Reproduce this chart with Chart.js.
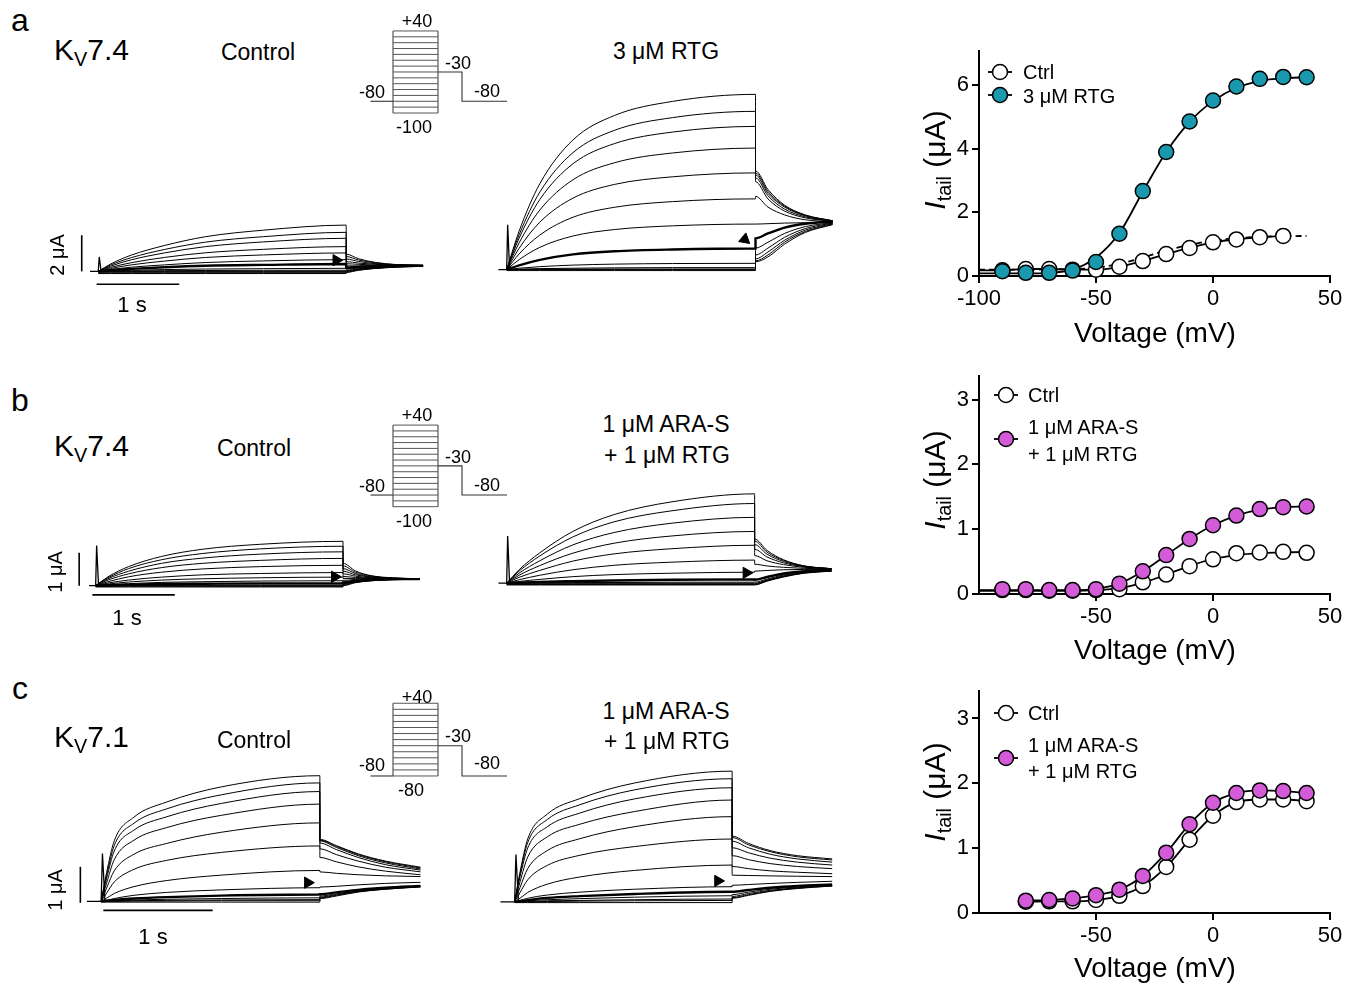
<!DOCTYPE html>
<html>
<head>
<meta charset="utf-8">
<title>Kv7 tail currents</title>
<script src="https://cdn.jsdelivr.net/npm/chart.js@4.4.1/dist/chart.umd.min.js"></script>
<style>
  html, body { margin: 0; padding: 0; background: #fff; }
  body { position: relative; width: 1358px; height: 985px; overflow: hidden;
         font-family: Arial, "Liberation Sans", Helvetica, sans-serif; color: #000; }
  canvas { position: absolute; }
  .lbl { position: absolute; white-space: nowrap; line-height: 1; transform: translate(-50%, -50%); }
  .lbl.left { transform: translate(0, -50%); }
  .lbl.rot { transform: translate(-50%, -50%) rotate(-90deg); }
  .lbl sub { font-size: 0.66em; vertical-align: -0.32em; line-height: 0; }
</style>
</head>
<body>
<script>
/* ── Time bases of the current traces (s) ─────────────────── */
const tStep74 = [0, 0.15, 0.4, 0.8, 1.3, 2, 3];
const tTail74 = [3, 3.15, 3.35, 3.6, 3.93];
const tStep71 = [0, 0.05, 0.12, 0.3, 0.6, 1.1, 2];
const tTail71 = [2, 2.15, 2.35, 2.6, 2.92];

/* ── a: Kv7.4 control / 3 uM RTG traces (uA) ──────────────── */
const aCtrlStep = [
  [0, 0.41, 0.90, 1.43, 1.92, 2.28, 2.56],
  [0, 0.35, 0.76, 1.21, 1.62, 1.92, 2.16],
  [0, 0.29, 0.64, 1.02, 1.37, 1.63, 1.83],
  [0, 0.22, 0.48, 0.77, 1.03, 1.22, 1.37],
  [0, 0.16, 0.36, 0.57, 0.77, 0.91, 1.02],
  [0, 0.10, 0.23, 0.36, 0.49, 0.58, 0.65],
  [0, 0.07, 0.14, 0.23, 0.31, 0.36, 0.41],
  [0, 0.03, 0.06, 0.10, 0.13, 0.15, 0.17],
  [0, 0.01, 0.02, 0.04, 0.05, 0.06, 0.06],
  [0, 0, 0, 0, 0, 0, 0],
  [-0.04, -0.04, -0.04, -0.04, -0.04, -0.04, -0.04],
  [-0.08, -0.08, -0.08, -0.08, -0.08, -0.08, -0.08],
  [-0.12, -0.12, -0.12, -0.12, -0.12, -0.12, -0.12]
];
const aCtrlTail = [
  [0.95, 0.70, 0.50, 0.38, 0.33],
  [0.82, 0.63, 0.47, 0.37, 0.33],
  [0.68, 0.55, 0.43, 0.36, 0.33],
  [0.54, 0.46, 0.39, 0.35, 0.33],
  [0.42, 0.39, 0.35, 0.33, 0.32],
  [0.30, 0.31, 0.32, 0.32, 0.32],
  [0.20, 0.25, 0.29, 0.31, 0.31],
  [0.12, 0.19, 0.25, 0.29, 0.31],
  [0.06, 0.15, 0.22, 0.27, 0.30],
  [0.03, 0.12, 0.20, 0.26, 0.29],
  [0.00, 0.10, 0.18, 0.25, 0.29],
  [-0.03, 0.08, 0.17, 0.24, 0.28],
  [-0.06, 0.06, 0.16, 0.23, 0.28]
];
const aRtgStep = [
  [0, 1.97, 4.40, 6.64, 7.89, 8.61, 8.97],
  [0, 1.78, 3.97, 5.99, 7.13, 7.78, 8.10],
  [0, 1.61, 3.59, 5.42, 6.45, 7.04, 7.33],
  [0, 1.37, 3.05, 4.60, 5.47, 5.97, 6.22],
  [0, 1.09, 2.43, 3.66, 4.36, 4.75, 4.95],
  [0, 0.80, 1.77, 2.68, 3.19, 3.48, 3.62],
  [0, 0.51, 1.14, 1.72, 2.05, 2.24, 2.33],
  [0, 0.22, 0.50, 0.78, 0.94, 1.03, 1.08],
  [0, 0.07, 0.15, 0.23, 0.28, 0.31, 0.32],
  [0, 0.02, 0.05, 0.07, 0.09, 0.10, 0.10],
  [0, 0.01, 0.02, 0.02, 0.03, 0.03, 0.03],
  [0, 0, 0, 0, 0, 0, 0],
  [-0.05, -0.05, -0.05, -0.05, -0.05, -0.05, -0.05]
];
const aRtgTail = [
  [5.05, 4.10, 3.30, 2.80, 2.50],
  [4.95, 4.00, 3.25, 2.78, 2.50],
  [4.85, 3.90, 3.20, 2.75, 2.49],
  [4.70, 3.78, 3.10, 2.70, 2.48],
  [4.50, 3.62, 3.00, 2.65, 2.47],
  [3.75, 3.20, 2.80, 2.55, 2.45],
  [2.33, 2.35, 2.38, 2.40, 2.42],
  [1.60, 1.85, 2.15, 2.35, 2.45],
  [1.10, 1.40, 1.85, 2.20, 2.40],
  [0.75, 1.10, 1.65, 2.10, 2.38],
  [0.55, 0.90, 1.50, 2.02, 2.35],
  [0.45, 0.75, 1.40, 1.95, 2.33],
  [0.40, 0.65, 1.30, 1.90, 2.30]
];

/* ── b: Kv7.4 control / ARA-S + RTG traces (uA) ───────────── */
const bCtrlStep = [
  [0, 0.27, 0.58, 0.89, 1.11, 1.26, 1.35],
  [0, 0.24, 0.52, 0.79, 0.98, 1.12, 1.20],
  [0, 0.21, 0.44, 0.68, 0.84, 0.96, 1.03],
  [0, 0.17, 0.36, 0.55, 0.68, 0.77, 0.83],
  [0, 0.12, 0.27, 0.41, 0.51, 0.58, 0.62],
  [0, 0.08, 0.17, 0.26, 0.33, 0.37, 0.40],
  [0, 0.05, 0.11, 0.17, 0.21, 0.24, 0.26],
  [0, 0.03, 0.06, 0.10, 0.12, 0.14, 0.15],
  [0, 0.01, 0.03, 0.05, 0.06, 0.07, 0.07],
  [0, 0, 0.01, 0.01, 0.02, 0.02, 0.02],
  [0, 0, 0, 0, 0, 0, 0],
  [-0.02, -0.02, -0.02, -0.02, -0.02, -0.02, -0.02],
  [-0.04, -0.04, -0.04, -0.04, -0.04, -0.04, -0.04]
];
const bCtrlTail = [
  [0.68, 0.45, 0.30, 0.24, 0.21],
  [0.60, 0.41, 0.29, 0.23, 0.21],
  [0.52, 0.37, 0.27, 0.23, 0.21],
  [0.44, 0.33, 0.26, 0.22, 0.21],
  [0.36, 0.29, 0.24, 0.22, 0.21],
  [0.28, 0.25, 0.23, 0.22, 0.21],
  [0.22, 0.22, 0.22, 0.21, 0.21],
  [0.16, 0.19, 0.20, 0.21, 0.21],
  [0.10, 0.15, 0.18, 0.20, 0.20],
  [0.06, 0.12, 0.17, 0.19, 0.20],
  [0.04, 0.11, 0.16, 0.19, 0.20],
  [0.02, 0.10, 0.15, 0.18, 0.20],
  [0.00, 0.09, 0.15, 0.18, 0.20]
];
const bAraStep = [
  [0, 0.39, 0.88, 1.50, 1.99, 2.36, 2.59],
  [0, 0.35, 0.79, 1.34, 1.78, 2.10, 2.31],
  [0, 0.29, 0.65, 1.11, 1.47, 1.74, 1.91],
  [0, 0.23, 0.51, 0.87, 1.16, 1.37, 1.50],
  [0, 0.17, 0.37, 0.64, 0.85, 1.00, 1.10],
  [0, 0.10, 0.23, 0.39, 0.52, 0.61, 0.67],
  [0, 0.05, 0.11, 0.19, 0.25, 0.29, 0.32],
  [0, 0.02, 0.04, 0.06, 0.08, 0.10, 0.11],
  [0, 0, 0.01, 0.02, 0.02, 0.03, 0.03],
  [0, 0, 0, 0, 0, 0, 0],
  [-0.02, -0.02, -0.02, -0.02, -0.02, -0.02, -0.02],
  [-0.04, -0.04, -0.04, -0.04, -0.04, -0.04, -0.04],
  [-0.05, -0.05, -0.05, -0.05, -0.05, -0.05, -0.05]
];
const bAraTail = [
  [1.28, 0.95, 0.68, 0.50, 0.42],
  [1.22, 0.90, 0.66, 0.50, 0.42],
  [1.12, 0.84, 0.63, 0.49, 0.42],
  [0.98, 0.76, 0.59, 0.48, 0.42],
  [0.80, 0.65, 0.54, 0.46, 0.41],
  [0.55, 0.50, 0.46, 0.43, 0.41],
  [0.35, 0.37, 0.39, 0.40, 0.40],
  [0.10, 0.18, 0.28, 0.35, 0.38],
  [0.03, 0.12, 0.24, 0.32, 0.37],
  [0.00, 0.09, 0.22, 0.31, 0.36],
  [-0.02, 0.08, 0.20, 0.30, 0.36],
  [-0.04, 0.07, 0.19, 0.30, 0.35],
  [-0.05, 0.06, 0.18, 0.29, 0.35]
];

/* ── c: Kv7.1 control / ARA-S + RTG traces (uA) ───────────── */
const cCtrlStep = [
  [0, 0.80, 1.68, 2.34, 2.76, 3.18, 3.49],
  [0, 0.72, 1.55, 2.17, 2.57, 2.96, 3.29],
  [0, 0.64, 1.40, 1.98, 2.35, 2.72, 3.05],
  [0, 0.51, 1.16, 1.70, 2.05, 2.39, 2.70],
  [0, 0.37, 0.85, 1.31, 1.61, 1.92, 2.18],
  [0, 0.23, 0.54, 0.89, 1.14, 1.36, 1.54],
  [0, 0.09, 0.22, 0.41, 0.58, 0.73, 0.86],
  [0, 0.03, 0.08, 0.17, 0.25, 0.32, 0.38],
  [0, 0.02, 0.04, 0.08, 0.12, 0.16, 0.19],
  [0, 0.01, 0.02, 0.04, 0.06, 0.08, 0.10],
  [0, 0, 0.01, 0.02, 0.03, 0.04, 0.05],
  [0, 0, 0, 0.01, 0.01, 0.02, 0.02],
  [-0.02, -0.02, -0.02, -0.02, -0.02, -0.02, -0.02]
];
const cCtrlTail = [
  [1.72, 1.55, 1.32, 1.12, 0.95],
  [1.70, 1.53, 1.30, 1.10, 0.93],
  [1.68, 1.50, 1.27, 1.07, 0.90],
  [1.62, 1.44, 1.22, 1.02, 0.87],
  [1.46, 1.30, 1.12, 0.95, 0.82],
  [1.22, 1.10, 0.96, 0.84, 0.74],
  [0.82, 0.78, 0.74, 0.71, 0.69],
  [0.40, 0.42, 0.46, 0.50, 0.53],
  [0.20, 0.25, 0.32, 0.38, 0.43],
  [0.15, 0.21, 0.29, 0.36, 0.42],
  [0.12, 0.19, 0.28, 0.35, 0.41],
  [0.10, 0.17, 0.27, 0.34, 0.41],
  [0.08, 0.15, 0.26, 0.34, 0.40]
];
const cAraStep = [
  [0, 0.83, 1.74, 2.43, 2.86, 3.29, 3.62],
  [0, 0.78, 1.64, 2.28, 2.69, 3.10, 3.41],
  [0, 0.70, 1.49, 2.08, 2.46, 2.85, 3.16],
  [0, 0.56, 1.24, 1.80, 2.15, 2.50, 2.82],
  [0, 0.40, 0.92, 1.42, 1.75, 2.08, 2.36],
  [0, 0.26, 0.61, 1.01, 1.29, 1.53, 1.74],
  [0, 0.10, 0.26, 0.49, 0.69, 0.87, 1.02],
  [0, 0.04, 0.10, 0.19, 0.27, 0.35, 0.42],
  [0, 0.02, 0.05, 0.11, 0.16, 0.22, 0.28],
  [0, 0.01, 0.03, 0.06, 0.09, 0.13, 0.17],
  [0, 0, 0.01, 0.03, 0.04, 0.06, 0.08],
  [0, 0, 0, 0.01, 0.02, 0.03, 0.04],
  [-0.02, -0.02, -0.02, -0.02, -0.02, -0.02, -0.02]
];
const cAraTail = [
  [1.82, 1.62, 1.42, 1.28, 1.19],
  [1.78, 1.58, 1.39, 1.25, 1.16],
  [1.68, 1.50, 1.32, 1.19, 1.10],
  [1.50, 1.36, 1.21, 1.10, 1.02],
  [1.28, 1.17, 1.06, 0.98, 0.92],
  [0.98, 0.92, 0.86, 0.82, 0.78],
  [0.74, 0.73, 0.72, 0.71, 0.70],
  [0.46, 0.48, 0.51, 0.54, 0.57],
  [0.28, 0.33, 0.39, 0.44, 0.48],
  [0.20, 0.27, 0.35, 0.41, 0.46],
  [0.15, 0.23, 0.32, 0.39, 0.45],
  [0.12, 0.20, 0.30, 0.38, 0.44],
  [0.10, 0.18, 0.29, 0.37, 0.44]
];

// capacitive spike height at pulse onset (uA), panels in reading order
const spikeHeights = [0.8, 2.3, 1.22, 1.37, 1.33, 1.31];
// arrowhead marks [t (s), I (uA)]
const arrowMarks = [[2.88, 0.62], [2.87, 1.55], [2.9, 0.27], [2.9, 0.3], [1.89, 0.52], [1.87, 0.58]];

/* ── Voltage protocols (mV) ───────────────────────────────── */
const stepLevels74 = [-100, -90, -80, -70, -60, -50, -40, -30, -20, -10, 0, 10, 20, 30, 40];
const stepLevels71 = [-80, -70, -60, -50, -40, -30, -20, -10, 0, 10, 20, 30, 40];
const holdMV = -80;
const tailMV = -30;
const protoT = [-1.5, 0, 3, 4.6, 7.6];   // hold start, step on, step off, tail off, end

/* ── I-V data (uA vs mV) ──────────────────────────────────── */
const voltAB = [-90, -80, -70, -60, -50, -40, -30, -20, -10, 0, 10, 20, 30, 40];
const voltFit = [-100, -90, -80, -70, -60, -50, -40, -30, -20, -10, 0, 10, 20, 30, 40];
const voltC = [-80, -70, -60, -50, -40, -30, -20, -10, 0, 10, 20, 30, 40];

const ivCtrlA = [0.18, 0.22, 0.22, 0.20, 0.20, 0.29, 0.47, 0.69, 0.88, 1.06, 1.15, 1.22, 1.26];
const ivRtgA = [0.15, 0.10, 0.10, 0.17, 0.44, 1.33, 2.67, 3.90, 4.86, 5.52, 5.96, 6.20, 6.26, 6.25];
const fitRtgA = [0.08, 0.08, 0.08, 0.10, 0.20, 0.58, 1.35, 2.65, 3.90, 4.85, 5.50, 5.92, 6.13, 6.22, 6.25];
const lineCtrlA = [0.18, 0.18, 0.22, 0.22, 0.20, 0.20, 0.29, 0.47, 0.69, 0.88, 1.06, 1.15, 1.22, 1.26];
const fitCtrlA = [0.20, 0.20, 0.20, 0.21, 0.22, 0.26, 0.38, 0.58, 0.80, 0.98, 1.11, 1.19, 1.23, 1.25, 1.26];

const ivCtrlB = [0.06, 0.06, 0.05, 0.05, 0.06, 0.075, 0.18, 0.30, 0.43, 0.535, 0.63, 0.64, 0.65, 0.635];
const ivAraB = [0.075, 0.075, 0.06, 0.06, 0.075, 0.16, 0.35, 0.60, 0.85, 1.06, 1.21, 1.31, 1.34, 1.35];
const fitCtrlB = [0.05, 0.05, 0.05, 0.05, 0.05, 0.06, 0.09, 0.17, 0.30, 0.43, 0.54, 0.60, 0.63, 0.64, 0.65];
const fitAraB = [0.06, 0.06, 0.06, 0.06, 0.06, 0.08, 0.16, 0.35, 0.60, 0.85, 1.06, 1.21, 1.30, 1.34, 1.35];

const ivCtrlC = [0.175, 0.18, 0.18, 0.20, 0.265, 0.415, 0.71, 1.13, 1.50, 1.71, 1.75, 1.75, 1.725];
const ivAraC = [0.19, 0.20, 0.225, 0.275, 0.36, 0.57, 0.93, 1.37, 1.70, 1.85, 1.89, 1.88, 1.85];

const xTicksA = [-100, -50, 0, 50];
const xTicksBC = [-50, 0, 50];
const yTicksA = [0, 2, 4, 6];
const yTicksBC = [0, 1, 2, 3];

/* ── Helpers ──────────────────────────────────────────────── */
const TEAL = '#1a98ad';
const MAGENTA = '#d35bd8';
const FONT = 'Arial, "Liberation Sans", Helvetica, sans-serif';

function makeCanvas(L, T, W, H) {
  const cv = document.createElement('canvas');
  cv.width = W; cv.height = H;
  cv.style.left = L + 'px'; cv.style.top = T + 'px';
  cv.style.width = W + 'px'; cv.style.height = H + 'px';
  document.body.appendChild(cv);
  return cv;
}

function label(html, x, y, size, cls) {
  const d = document.createElement('div');
  d.className = 'lbl' + (cls ? ' ' + cls : '');
  d.style.left = x + 'px'; d.style.top = y + 'px'; d.style.fontSize = size + 'px';
  d.innerHTML = html;
  document.body.appendChild(d);
}

// pixel geometry -> axis ranges (axes hidden, no padding)
function ranges(rect, x0, pxX, y0, pxY) {
  const [L, T, W, H] = rect;
  return { xmin: (L - x0) / pxX, xmax: (L + W - x0) / pxX, ymax: (y0 - T) / pxY, ymin: (y0 - T - H) / pxY };
}

function seg(points, width, color) {
  return { data: points.map(p => ({ x: p[0], y: p[1] })), borderColor: color || '#000',
           borderWidth: width, pointRadius: 0, tension: 0, clip: false };
}

function hiddenAxes(r) {
  return {
    x: { type: 'linear', display: false, min: r.xmin, max: r.xmax },
    y: { type: 'linear', display: false, min: r.ymin, max: r.ymax }
  };
}

const baseOpts = { responsive: false, animation: false, events: [],
                   layout: { padding: 0 },
                   plugins: { legend: { display: false }, tooltip: { enabled: false } } };

/* ── Current trace panels ─────────────────────────────────── */
function tracePanel(p, k) {
  const r = ranges(p.rect, p.x0, p.pxX, p.y0, p.pxY);
  const cv = makeCanvas(...p.rect);
  const datasets = [];
  p.step.forEach((row, i) => {
    const pts = p.tStep.map((t, j) => ({ x: t, y: row[j] }))
      .concat(p.tTail.map((t, j) => ({ x: t, y: p.tail[i][j] })));
    datasets.push({ data: pts, borderColor: '#000', borderWidth: i === p.thick ? 2.4 : 1,
                    pointRadius: 0, cubicInterpolationMode: 'monotone', clip: false });
  });
  // holding baseline + capacitive spike
  datasets.push(seg([[p.pre, 0], [0, 0], [0.012, spikeHeights[k]], [0.035, 0]], 1.3));
  // arrowhead
  datasets.push({ data: [{ x: arrowMarks[k][0], y: arrowMarks[k][1] }], showLine: false,
                  pointStyle: 'triangle', rotation: p.arrowRot, pointRadius: 6.5,
                  pointBackgroundColor: '#000', pointBorderColor: '#000', pointBorderWidth: 1, clip: false });
  // scale bars
  if (p.vbar) datasets.push(seg([[p.vbar.t, p.vbar.from], [p.vbar.t, p.vbar.from + p.vbar.len]], 1.6));
  if (p.hbar) datasets.push(seg([[p.hbar.from, p.hbar.y], [p.hbar.from + p.hbar.len, p.hbar.y]], 1.6));

  new Chart(cv, { type: 'line', data: { datasets },
                  options: Object.assign({}, baseOpts, { scales: hiddenAxes(r) }) });
}

const panels = [
  { rect: [60, 195, 385, 108], x0: 92, pxX: 86, y0: 275, pxY: 21, tStep: tStep74, tTail: tTail74,
    step: aCtrlStep, tail: aCtrlTail, thick: 6, pre: -0.1, arrowRot: 90,
    vbar: { t: -0.2, from: 0, len: 2 }, hbar: { y: -0.71, from: -0.02, len: 1 } },
  { rect: [480, 70, 365, 215], x0: 500, pxX: 86.5, y0: 276.5, pxY: 21, tStep: tStep74, tTail: tTail74,
    step: aRtgStep, tail: aRtgTail, thick: 7, pre: -0.1, arrowRot: 10 },
  { rect: [60, 515, 385, 95], x0: 89.3, pxX: 85.8, y0: 590, pxY: 39, tStep: tStep74, tTail: tTail74,
    step: bCtrlStep, tail: bCtrlTail, thick: 8, pre: -0.08, arrowRot: 90,
    vbar: { t: -0.2, from: 0, len: 1 }, hbar: { y: -0.28, from: -0.04, len: 1 } },
  { rect: [480, 470, 365, 130], x0: 500, pxX: 86.2, y0: 589.5, pxY: 39, tStep: tStep74, tTail: tTail74,
    step: bAraStep, tail: bAraTail, thick: 7, pre: -0.1, arrowRot: 90 },
  { rect: [60, 750, 385, 180], x0: 95, pxX: 113.8, y0: 907, pxY: 39.3, tStep: tStep71, tTail: tTail71,
    step: cCtrlStep, tail: cCtrlTail, thick: 8, pre: -0.13, arrowRot: 90,
    vbar: { t: -0.19, from: -0.04, len: 1 }, hbar: { y: -0.25, from: 0.02, len: 1 } },
  { rect: [480, 740, 365, 185], x0: 508.3, pxX: 113.4, y0: 908, pxY: 39.3, tStep: tStep71, tTail: tTail71,
    step: cAraStep, tail: cAraTail, thick: 8, pre: -0.13, arrowRot: 90 }
];
panels.forEach(tracePanel);

/* ── Voltage protocol insets ──────────────────────────────── */
function protocolPanel(p) {
  const r = ranges(p.rect, p.x0, p.pxX, p.y0, p.pxY);
  const cv = makeCanvas(...p.rect);
  const lo = Math.min(...p.levels), hi = Math.max(...p.levels);
  const on = protoT[1], off = protoT[2];
  const datasets = p.levels.map(v => seg([[on, v], [off, v]], 1, '#555'));
  datasets.push(seg([[on, lo], [on, hi]], 1.1, '#444'));
  datasets.push(seg([[off, lo], [off, hi]], 1.1, '#444'));
  datasets.push(seg([[protoT[0], holdMV], [on, holdMV]], 1.1, '#333'));
  datasets.push(seg([[off, tailMV], [protoT[3], tailMV], [protoT[3], holdMV], [protoT[4], holdMV]], 1.1, '#333'));
  new Chart(cv, { type: 'line', data: { datasets },
                  options: Object.assign({}, baseOpts, { scales: hiddenAxes(r) }) });
}
protocolPanel({ rect: [352, 20, 165, 105], x0: 393, pxX: 15, y0: 54.4, pxY: 0.586, levels: stepLevels74 });
protocolPanel({ rect: [352, 414, 165, 105], x0: 393, pxX: 15, y0: 448.4, pxY: 0.583, levels: stepLevels74 });
protocolPanel({ rect: [352, 692, 165, 95], x0: 393, pxX: 15, y0: 727.5, pxY: 0.606, levels: stepLevels71 });

/* ── I-V charts ───────────────────────────────────────────── */
const ivLegendPlugin = {
  id: 'ivLegend',
  afterDraw(chart, args, opts) {
    const ctx = chart.ctx;
    (opts.items || []).forEach(it => {
      ctx.save();
      ctx.strokeStyle = '#000';
      ctx.lineWidth = 1.8;
      ctx.beginPath(); ctx.moveTo(it.x - 12, it.y); ctx.lineTo(it.x + 12, it.y); ctx.stroke();
      ctx.beginPath(); ctx.arc(it.x, it.y, 7.5, 0, Math.PI * 2);
      ctx.fillStyle = it.fill; ctx.fill();
      ctx.lineWidth = 1.5; ctx.stroke();
      ctx.restore();
    });
  }
};

const xy = (xs, ys) => ys.map((y, i) => ({ x: xs[i], y }));

function pointSet(xs, ys, fill, order) {
  return { data: xy(xs, ys), backgroundColor: fill, pointBackgroundColor: fill, borderColor: '#000',
           pointBorderColor: '#000', pointBorderWidth: 1.5, pointRadius: 7.5, showLine: false,
           order, clip: false };
}
function curveSet(xs, ys, order, dash) {
  return { data: xy(xs, ys), showLine: true, pointRadius: 0, borderColor: '#000', borderWidth: 1.8,
           borderDash: dash || [], cubicInterpolationMode: 'monotone', order, clip: false };
}

function ivChart(c) {
  const [L, T, W, H] = c.rect;
  const cv = makeCanvas(L, T, W, H);
  const tickFont = { family: FONT, size: 22 };
  new Chart(cv, {
    type: 'scatter',
    data: { datasets: c.datasets },
    options: Object.assign({}, baseOpts, {
      layout: { padding: { top: c.padTop, right: 28, left: 0, bottom: 0 } },
      plugins: { legend: { display: false }, tooltip: { enabled: false }, ivLegend: { items: c.legend } },
      scales: {
        x: {
          type: 'linear', min: -100, max: 50,
          afterBuildTicks: s => { s.ticks = c.xTicks.map(v => ({ value: v })); },
          afterFit: s => { s.height = c.xH; },
          grid: { drawOnChartArea: false, drawTicks: true, tickLength: 7, lineWidth: 2, color: '#000' },
          border: { display: true, color: '#000', width: 2 },
          ticks: { color: '#000', font: tickFont, padding: 3, maxRotation: 0 }
        },
        y: {
          type: 'linear', min: 0, max: c.yMax,
          afterBuildTicks: s => { s.ticks = c.yTicks.map(v => ({ value: v })); },
          afterFit: s => { s.width = c.yW; },
          grid: { drawOnChartArea: false, drawTicks: true, tickLength: 7, lineWidth: 2, color: '#000' },
          border: { display: true, color: '#000', width: 2 },
          ticks: { color: '#000', font: tickFont, padding: 3 }
        }
      }
    }),
    plugins: [ivLegendPlugin]
  });
}

ivChart({
  rect: [930, 35, 428, 290], padTop: 10, yW: 49, xH: 49, yMax: 7.07, xTicks: xTicksA, yTicks: yTicksA,
  legend: [{ x: 70, y: 37, fill: '#fff' }, { x: 70, y: 60, fill: TEAL }],
  datasets: [
    pointSet(voltAB, ivRtgA, TEAL, 0),
    pointSet(voltAB, ivCtrlA, '#fff', 1),
    curveSet(voltFit, fitRtgA, 2),
    curveSet(voltFit, lineCtrlA, 3),
    curveSet(voltFit, fitCtrlA, 4, [6, 4])
  ]
});
ivChart({
  rect: [930, 360, 428, 280], padTop: 10, yW: 49, xH: 46, yMax: 3.36, xTicks: xTicksBC, yTicks: yTicksBC,
  legend: [{ x: 76, y: 35, fill: '#fff' }, { x: 76, y: 79, fill: MAGENTA }],
  datasets: [
    pointSet(voltAB, ivAraB, MAGENTA, 0),
    pointSet(voltAB, ivCtrlB, '#fff', 1),
    curveSet(voltFit, fitAraB, 2),
    curveSet(voltFit, fitCtrlB, 3)
  ]
});
ivChart({
  rect: [930, 675, 428, 290], padTop: 10, yW: 49, xH: 52, yMax: 3.42, xTicks: xTicksBC, yTicks: yTicksBC,
  legend: [{ x: 76, y: 38, fill: '#fff' }, { x: 76, y: 83, fill: MAGENTA }],
  datasets: [
    pointSet(voltC, ivAraC, MAGENTA, 0),
    pointSet(voltC, ivCtrlC, '#fff', 1),
    curveSet(voltC, ivAraC, 2),
    curveSet(voltC, ivCtrlC, 3)
  ]
});

/* ── Text ─────────────────────────────────────────────────── */
label('a', 20, 20, 32); label('b', 20, 400, 32); label('c', 20, 688, 32);
label('K<sub>V</sub>7.4', 54, 50, 30, 'left');
label('K<sub>V</sub>7.4', 54, 446, 30, 'left');
label('K<sub>V</sub>7.1', 54, 737, 30, 'left');
label('Control', 258, 52, 23); label('Control', 254, 448, 23); label('Control', 254, 740, 23);
label('3 μM RTG', 666, 51, 23);
label('1 μM ARA-S', 666, 424, 23); label('+ 1 μM RTG', 667, 455, 23);
label('1 μM ARA-S', 666, 711, 23); label('+ 1 μM RTG', 667, 741, 23);

// protocol labels
[[0, '-100'], [394, '-100'], [278, '-80']].forEach(([dy, bottom], i) => {
  const top = i === 2 ? 697 : 21 + dy;
  label('+40', 417, top, 18);
  label('-30', 458, i === 2 ? 736 : 63 + dy, 18);
  label('-80', 372, i === 2 ? 765 : 92 + dy, 18);
  label('-80', 487, i === 2 ? 763 : 91 + dy, 18);
  label(bottom, i === 2 ? 411 : 414, i === 2 ? 790 : 127 + dy, 18);
});

// scale bar labels
label('2 μA', 57, 255, 20, 'rot'); label('1 s', 132, 305, 22);
label('1 μA', 55, 572, 20, 'rot'); label('1 s', 127, 618, 22);
label('1 μA', 55, 890, 20, 'rot'); label('1 s', 153, 937, 22);

// I-V axis titles and legends
[[160, 333], [480, 650], [792, 968]].forEach(([yc, xt]) => {
  label('<i>I</i><sub>tail</sub> (μA)', 935, yc, 30, 'rot');
  label('Voltage (mV)', 1155, xt, 28);
});
label('Ctrl', 1023, 72, 20, 'left'); label('3 μM RTG', 1023, 96, 20, 'left');
label('Ctrl', 1028, 395, 20, 'left'); label('1 μM ARA-S', 1028, 427, 20, 'left'); label('+ 1 μM RTG', 1028, 454, 20, 'left');
label('Ctrl', 1028, 713, 20, 'left'); label('1 μM ARA-S', 1028, 745, 20, 'left'); label('+ 1 μM RTG', 1028, 771, 20, 'left');
</script>
</body>
</html>
